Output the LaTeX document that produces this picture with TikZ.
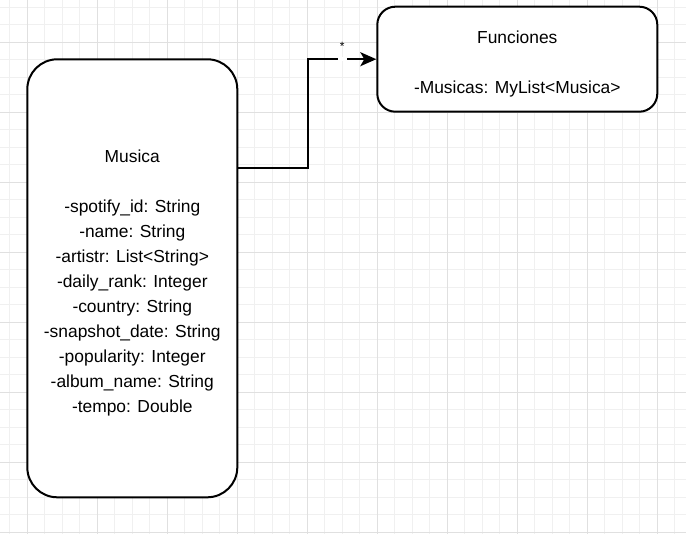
\documentclass[tikz,border=0pt]{standalone}
\usepackage{fontspec}
\setmainfont{Liberation Sans}
\usetikzlibrary{arrows.meta}
\definecolor{gridminor}{HTML}{F0F0F0}
\definecolor{gridmajor}{HTML}{E0E0E0}
\tikzset{
  classbox/.style={draw=black, line width=2pt, fill=white, rounded corners=#1,
                   align=center, inner sep=0pt, font=\fontsize{17.4}{25}\selectfont},
  classbox/.default=30pt,
  link/.style={draw=black, line width=2pt, -{Stealth[length=16pt,width=14pt,inset=4pt]}},
  gapmark/.style={fill=white, inner sep=0pt, minimum width=9pt, minimum height=4pt}
}
\begin{document}
\begin{tikzpicture}[x=1pt,y=-1pt]
\fill[white] (0,0) rectangle (686,534);
\useasboundingbox (0,0) rectangle (686,534);
% grid
\foreach \x in {9.8,27.3,...,686} \draw[gridminor, line width=1pt] (\x,0) -- (\x,534);
\foreach \y in {7.3,24.8,...,534} \draw[gridminor, line width=1pt] (0,\y) -- (686,\y);
\foreach \x in {27.3,97.3,...,686} \draw[gridmajor, line width=1pt] (\x,0) -- (\x,534);
\foreach \y in {42.3,112.3,...,534} \draw[gridmajor, line width=1pt] (0,\y) -- (686,\y);

\begin{scope}[every node/.style={classbox}]
    \node[minimum width=210pt, minimum height=438pt] (musica) at (132.3,278.3)
        {\rule{0pt}{21.5pt}Musica\\[25pt]
         -spotify\_id: String\\
         -name: String\\
         -artistr: List<String>\\
         -daily\_rank: Integer\\
         -country: String\\
         -snapshot\_date: String\\
         -popularity: Integer\\
         -album\_name: String\\
         -tempo: Double};
    \node[classbox=18pt, minimum width=280pt, minimum height=105pt] (funciones) at (517.3,59.2)
        {\rule{0pt}{23pt}Funciones\\[25pt]
         -Musicas: MyList<Musica>};
\end{scope}

% asociacion
\path[link] ([yshift=110pt]musica.east) -- ++(70,0) |-
    node[pos=0.75, gapmark, label={[font=\fontsize{12}{12}\selectfont, label distance=1pt]above:*}] (mult) {}
    (funciones.west);
\end{tikzpicture}
\end{document}
